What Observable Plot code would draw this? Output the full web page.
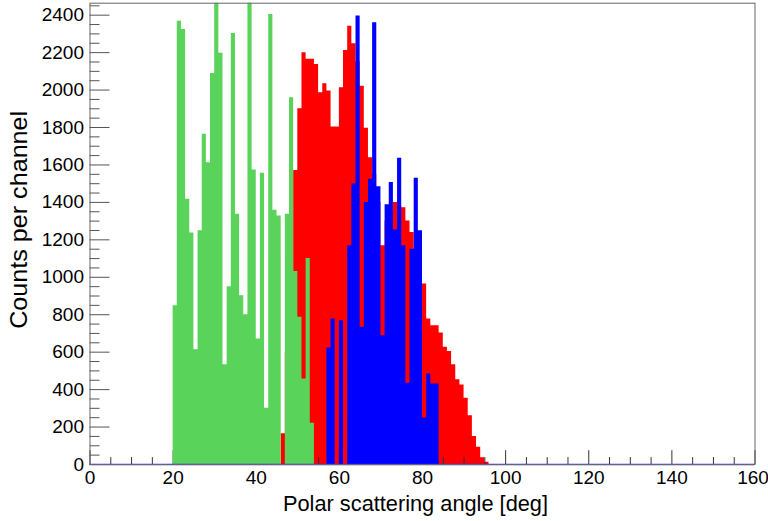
<!DOCTYPE html>
<html>
<head>
<meta charset="utf-8">
<script src="https://cdn.jsdelivr.net/npm/d3@7"></script>
<script src="https://cdn.jsdelivr.net/npm/@observablehq/plot@0.6"></script>
<style>
  html, body { margin: 0; padding: 0; background: #fff; }
  #chart svg { display: block; overflow: visible; }
</style>
</head>
<body>
<div id="chart"></div>
<script>
// Histogram data: 1-degree channels, counts per channel
const binWidth = 1;
const greenStart = 20;
const greenCounts = [848, 2368, 2323, 1417, 1236, 613, 1248, 1764, 1612, 2089, 2500, 2196, 533, 949, 2302, 1337, 901, 800, 2500, 1573, 670, 1556, 300, 2404, 1358, 1328, 0, 1337, 1959, 1031, 786, 457, 1100, 220];
const redStart = 46;
const redCounts = [164, 600, 1000, 1571, 1900, 2199, 2164, 2164, 2137, 1986, 2034, 1995, 1803, 1803, 2012, 2211, 2341, 2247, 2150, 2021, 1796, 1639, 1550, 1400, 1168, 1300, 1350, 1399, 1380, 1372, 1301, 1239, 1150, 1050, 964, 777, 741, 741, 702, 626, 604, 533, 453, 425, 354, 261, 149, 92, 36, 12];
const blueStart = 57;
const blueCounts = [622, 777, 0, 768, 0, 1168, 1498, 2395, 733, 1399, 1524, 2359, 1483, 688, 1387, 1506, 1252, 1636, 1168, 434, 1150, 1529, 1248, 249, 484, 430, 430];

const xTicks = [0, 20, 40, 60, 80, 100, 120, 140, 160];
const yTicks = [0, 200, 400, 600, 800, 1000, 1200, 1400, 1600, 1800, 2000, 2200, 2400];
const xMinor = d3.range(0, 161, 5).filter(v => v % 20 !== 0);
const yMinor = d3.range(0, 2451, 50).filter(v => v % 200 !== 0);
const xDomain = [0, 160];
const yDomain = [0, 2464];
const xTitle = "Polar scattering angle [deg]";
const yTitle = "Counts per channel";

function steps(start, counts) {
  const pts = counts.map((c, i) => ({a: start + i * binWidth, c}));
  pts.push({a: start + counts.length * binWidth, c: counts[counts.length - 1]});
  return pts;
}

const W = 768, H = 521;
const mL = 89.5, mR = 13.5, mT = 2.7, mB = 57;
// tick lengths expressed in data units from pixel lengths
const pxPerX = (W - mL - mR) / (xDomain[1] - xDomain[0]);
const pxPerY = (H - mT - mB) / (yDomain[1] - yDomain[0]);

const font = "'Liberation Sans', Arial, Helvetica, sans-serif";

const chart = Plot.plot({
  width: W,
  height: H,
  marginLeft: mL,
  marginRight: mR,
  marginTop: mT,
  marginBottom: mB,
  style: {fontFamily: font, fontSize: "19px", color: "#000", background: "#fff"},
  x: {domain: xDomain},
  y: {domain: yDomain},
  marks: [
    Plot.areaY(steps(redStart, redCounts), {x: "a", y: "c", curve: "step-after", fill: "#ff0000", clip: true}),
    // x-axis ticks (inside)
    Plot.ruleX(xTicks, {y1: 0, y2: 13.8 / pxPerY, stroke: "#333", strokeWidth: 1}),
    Plot.ruleX(xMinor, {y1: 0, y2: 6.9 / pxPerY, stroke: "#333", strokeWidth: 1}),
    Plot.areaY(steps(greenStart, greenCounts), {x: "a", y: "c", curve: "step-after", fill: "#5ad35a", clip: true}),
    Plot.areaY(steps(blueStart, blueCounts), {x: "a", y: "c", curve: "step-after", fill: "#0000ff", clip: true}),
    // y-axis ticks (inside)
    Plot.ruleY(yTicks, {x1: 0, x2: 20 / pxPerX, stroke: "#555", strokeWidth: 1}),
    Plot.ruleY(yMinor, {x1: 0, x2: 10 / pxPerX, stroke: "#555", strokeWidth: 1}),
    Plot.ruleY([0], {stroke: "#3333ff", strokeWidth: 1.5}),
    Plot.frame({stroke: "#666", strokeWidth: 1}),
    Plot.axisX({ticks: xTicks, tickSize: 0, tickPadding: 6, fontSize: 19, tickFormat: d => String(d), label: xTitle, labelAnchor: "center", labelArrow: "none", labelOffset: 46}),
    Plot.axisY({ticks: yTicks, tickSize: 0, tickPadding: 6, fontSize: 19, tickFormat: d => String(d), label: yTitle, labelAnchor: "center", labelArrow: "none", labelOffset: 80})
  ]
});

// Title sizing to match the reference text extents
const svg = d3.select(chart);
svg.selectAll('g[aria-label="x-axis label"] text')
  .style("font-size", "22px")
  .attr("textLength", 265).attr("lengthAdjust", "spacingAndGlyphs")
  .attr("transform", function() { return (d3.select(this).attr("transform") || "") + " translate(-7,0)"; });
svg.selectAll('g[aria-label="y-axis label"] text')
  .style("font-size", "24px")
  .attr("textLength", 218).attr("lengthAdjust", "spacingAndGlyphs")
  .attr("transform", function() { return (d3.select(this).attr("transform") || "") + " translate(14,0)"; });
svg.selectAll('g[aria-label="x-axis tick label"] text')
  .filter(function() { return d3.select(this).text() === "160"; })
  .attr("dx", -2);

document.getElementById("chart").appendChild(chart);
</script>
</body>
</html>
